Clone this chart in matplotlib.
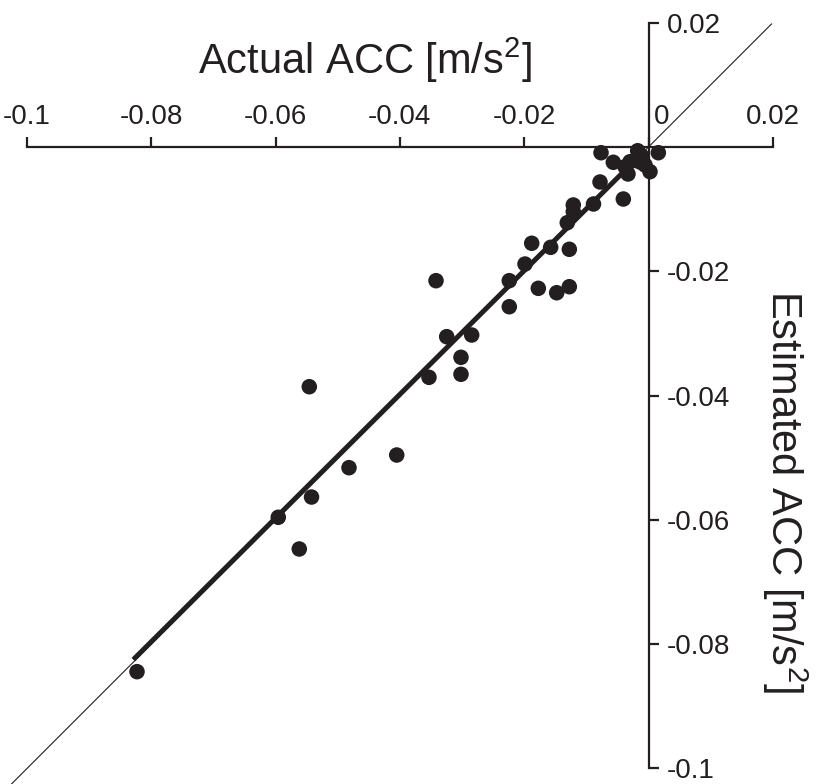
import numpy as np
import matplotlib
matplotlib.use("Agg")
import matplotlib.pyplot as plt
from matplotlib.transforms import ScaledTranslation

plt.rcParams['font.family'] = ['Liberation Sans', 'DejaVu Sans']
plt.rcParams['mathtext.default'] = 'regular'

# Data
actual = [-0.00764, -0.00566, -0.00298, -0.00174, -0.00100, 0.00158, 0.00024,
          -0.00330, -0.00137, -0.00056, -0.00378, -0.00780, -0.00405, -0.00885,
          -0.01210, -0.01210, -0.01307, -0.01879, -0.01574, -0.01274, -0.01987,
          -0.02240, -0.01773, -0.01477, -0.01274, -0.02240, -0.03419, -0.03247,
          -0.02845, -0.03017, -0.03017, -0.03532, -0.05458, -0.04051, -0.04819,
          -0.05422, -0.05957, -0.05619, -0.08230]
estimated = [-0.00092, -0.00246, -0.00237, -0.00060, -0.00156, -0.00092, -0.00397,
             -0.00434, -0.00241, -0.00290, -0.00317, -0.00563, -0.00837, -0.00917,
             -0.00933, -0.01041, -0.01218, -0.01549, -0.01614, -0.01646, -0.01883,
             -0.02151, -0.02274, -0.02345, -0.02248, -0.02570, -0.02151, -0.03052,
             -0.03025, -0.03384, -0.03657, -0.03706, -0.03857, -0.04956, -0.05160,
             -0.05632, -0.05958, -0.06468, -0.08442]

fit_x = [-0.0829, -0.0004]
fit_slope = 0.995
fit_intercept = 0.0
identity_x = [-0.1035, 0.0198]

xticks = [-0.1, -0.08, -0.06, -0.04, -0.02, 0, 0.02]
xticklabels = ['-0.1', '-0.08', '-0.06', '-0.04', '-0.02', '0', '0.02']
yticks = [0.02, -0.02, -0.04, -0.06, -0.08, -0.1]
yticklabels = ['0.02', '-0.02', '-0.04', '-0.06', '-0.08', '-0.1']

W, H = 817, 784
fig = plt.figure(figsize=(W / 100, H / 100), dpi=100)
ax = fig.add_axes([0, 0, 1, 1])

scale = 6215.0
x0_px, y0_px = 648.5, 147.0
ax.set_xlim((0 - x0_px) / scale, (W - x0_px) / scale)
ax.set_ylim((y0_px - H) / scale, (y0_px - 0) / scale)

# identity line
ax.plot(identity_x, identity_x, color='#231f20', lw=0.8, zorder=2)
# regression line
fx = np.array(fit_x)
ax.plot(fx, fit_slope * fx + fit_intercept, color='#231f20', lw=3.6,
        solid_capstyle='butt', zorder=3)
# points
ax.scatter(actual, estimated, s=125, color='#231f20', edgecolors='none', zorder=4)

# spines through origin
for s in ['left', 'bottom']:
    ax.spines[s].set_visible(False)
ax.spines['top'].set_position(('data', 0))
ax.spines['right'].set_position(('data', 0))
ax.spines['top'].set_bounds(-0.1, 0.02)
ax.spines['right'].set_bounds(-0.1, 0.02)
for s in ['top', 'right']:
    ax.spines[s].set_linewidth(1.6)
    ax.spines[s].set_color('#231f20')

ax.xaxis.set_ticks_position('top')
ax.yaxis.set_ticks_position('right')
ax.set_xticks(xticks)
ax.set_xticklabels(xticklabels)
ax.set_yticks(yticks)
ax.set_yticklabels(yticklabels)
ax.tick_params(axis='both', direction='out', length=7.5, width=1.6,
               colors='#231f20', labelsize=20, pad=5)
ax.tick_params(axis='x', labeltop=True, labelbottom=False)
ax.tick_params(axis='y', labelright=True, labelleft=False, pad=6)

# shift the "0" label slightly right off the vertical axis
for lbl in ax.get_xticklabels():
    if lbl.get_text() == '0':
        lbl.set_transform(lbl.get_transform() + ScaledTranslation(13 / 100, 0, fig.dpi_scale_trans))

ax.patch.set_visible(False)

fig.text(365 / W, 1 - 60 / H, r'Actual ACC [m/s$^2$]', fontsize=30,
         ha='center', va='center', color='#231f20')
fig.text(785 / W, 1 - 492 / H, r'Estimated ACC [m/s$^2$]', fontsize=30,
         ha='center', va='center', rotation=-90, color='#231f20')

fig.savefig('out.png', dpi=100)
